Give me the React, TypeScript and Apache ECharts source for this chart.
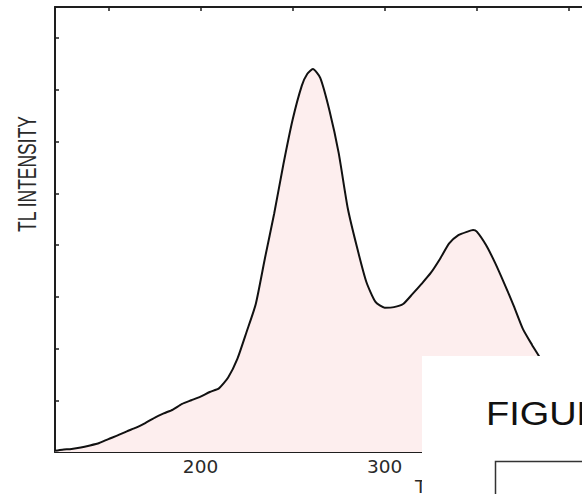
import React, { useEffect, useRef } from "react";
import * as echarts from "echarts";

// Temperature (°C) and TL intensity (arbitrary units, one unit per y tick)
const temperatures = [121, 125, 130, 135, 140, 145, 150, 155, 160, 165, 170, 175, 180, 185, 190, 195, 200, 205, 210, 215, 220, 225, 230, 235, 240, 245, 250, 255, 258, 261, 265, 270, 275, 280, 285, 290, 295, 300, 305, 310, 315, 320, 325, 330, 335, 340, 345, 348, 350, 355, 360, 365, 370, 375, 380, 385, 390, 395, 400, 405, 410, 415, 420, 430, 450];
const intensity = [0.025, 0.045, 0.058, 0.085, 0.126, 0.174, 0.25, 0.32, 0.40, 0.47, 0.56, 0.66, 0.745, 0.82, 0.93, 1.0, 1.07, 1.16, 1.23, 1.44, 1.80, 2.32, 2.86, 3.75, 4.61, 5.56, 6.42, 7.08, 7.31, 7.40, 7.23, 6.60, 5.78, 4.70, 3.95, 3.29, 2.90, 2.79, 2.80, 2.86, 3.05, 3.25, 3.46, 3.73, 4.03, 4.19, 4.26, 4.29, 4.26, 4.00, 3.65, 3.25, 2.83, 2.38, 2.07, 1.78, 1.45, 1.12, 0.82, 0.56, 0.36, 0.21, 0.11, 0.04, 0.0];
const xTickValues = [150, 200, 250, 300, 350, 400, 450];
const xLabelValues = [200, 300];

const yAxisTitle = "TL INTENSITY";
const xAxisTitle = "TEMPERATURE (°C)";
const figureTitle = "FIGURE";

export default function App() {
  const ref = useRef<HTMLDivElement>(null);
  useEffect(() => {
    if (!ref.current) return;
    const chart = echarts.init(ref.current, null, { renderer: "svg" });
    const frame = { lineStyle: { color: "#1e1e1e", width: 2 } };
    chart.setOption({
      animation: false,
      backgroundColor: "#ffffff",
      grid: { left: 55, top: 7, bottom: 42, right: 0, containLabel: false },
      xAxis: [
        {
          type: "value",
          min: 121,
          max: 450,
          position: "bottom",
          axisLine: { show: true, onZero: false, ...frame },
          axisTick: { show: true, inside: true, length: 4, customValues: xTickValues, lineStyle: { color: "#1e1e1e", width: 1.5 } },
          axisLabel: { show: true, customValues: xLabelValues, margin: 5, fontFamily: "DejaVu Sans", fontSize: 18.5, color: "#2a2a2a" },
          splitLine: { show: false },
        },
        {
          type: "value",
          min: 121,
          max: 450,
          position: "top",
          axisLine: { show: true, onZero: false, ...frame },
          axisTick: { show: true, inside: true, length: 4, customValues: xTickValues, lineStyle: { color: "#1e1e1e", width: 1.5 } },
          axisLabel: { show: false },
          splitLine: { show: false },
        },
      ],
      yAxis: {
        type: "value",
        min: 0,
        max: 8.6,
        interval: 1,
        axisLine: { show: true, onZero: false, ...frame },
        axisTick: { show: true, inside: true, length: 4, lineStyle: { color: "#1e1e1e", width: 1.5 } },
        axisLabel: { show: false },
        splitLine: { show: false },
      },
      series: [
        {
          type: "line",
          data: temperatures.map((t, i) => [t, intensity[i]]),
          showSymbol: false,
          smooth: 0.2,
          lineStyle: { color: "#111111", width: 2 },
          areaStyle: { color: "#fdeeee", opacity: 1 },
          z: 2,
        },
      ],
      graphic: [
        {
          type: "text",
          x: 27,
          y: 174,
          rotation: Math.PI / 2,
          scaleX: 0.7,
          style: {
            text: yAxisTitle,
            fontFamily: "Liberation Sans",
            fontSize: 25,
            fill: "#2a2a2a",
            align: "center",
            verticalAlign: "middle",
          },
          z: 10,
        },
        {
          type: "text",
          x: 415,
          y: 476.5,
          style: {
            text: xAxisTitle,
            fontFamily: "DejaVu Sans",
            fontSize: 18.5,
            fill: "#2a2a2a",
            align: "left",
            verticalAlign: "top",
          },
          z: 10,
        },
        {
          type: "rect",
          shape: { x: 422, y: 356, width: 260, height: 200 },
          style: { fill: "#ffffff" },
          z: 20,
        },
        {
          type: "text",
          x: 486,
          y: 413.6,
          scaleX: 1.15,
          style: {
            text: figureTitle,
            fontFamily: "Liberation Sans",
            fontSize: 33,
            fill: "#111111",
            align: "left",
            verticalAlign: "middle",
          },
          z: 21,
        },
        {
          type: "rect",
          shape: { x: 495.5, y: 461.5, width: 200, height: 100 },
          style: { fill: "none", stroke: "#333333", lineWidth: 1.5 },
          z: 21,
        },
      ],
    });
    return () => chart.dispose();
  }, []);
  return (
    <div style={{ position: "fixed", left: 0, top: 0, width: 582, height: 494, overflow: "hidden", background: "#fff" }}>
      <div ref={ref} style={{ width: 661, height: 494 }} />
    </div>
  );
}
